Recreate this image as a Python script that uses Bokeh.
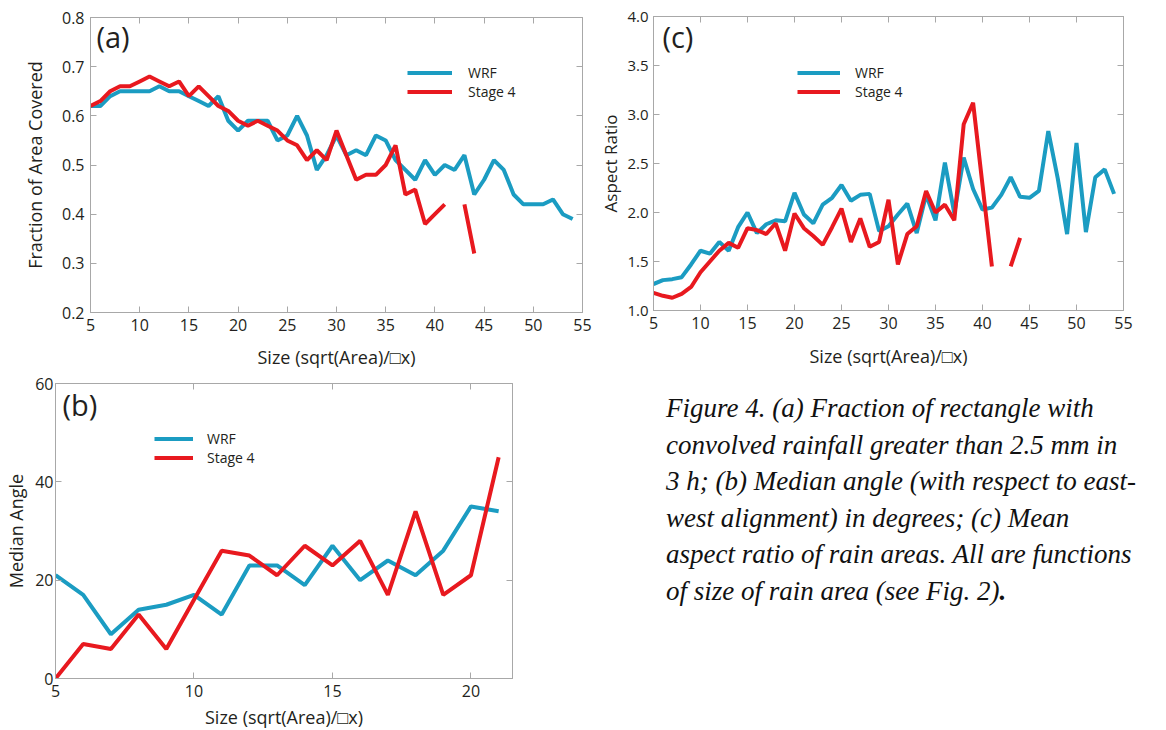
from bokeh.plotting import figure
from bokeh.models import (LinearAxis, FixedTicker, PrintfTickFormatter, Legend,
                          LegendItem, Div, Range1d)
from bokeh.layouts import row, column
from bokeh.embed import file_html
from bokeh.resources import INLINE
from bokeh.core.properties import value

nan = float("nan")

# ---------------- data ----------------
a_size = list(range(5, 55))
a_wrf = [0.62, 0.62, 0.64, 0.65, 0.65, 0.65, 0.65, 0.66, 0.65, 0.65,
         0.64, 0.63, 0.62, 0.64, 0.59, 0.57, 0.59, 0.59, 0.59, 0.55,
         0.56, 0.60, 0.56, 0.49, 0.52, 0.56, 0.52, 0.53, 0.52, 0.56,
         0.55, 0.51, 0.49, 0.47, 0.51, 0.48, 0.50, 0.49, 0.52, 0.44,
         0.47, 0.51, 0.49, 0.44, 0.42, 0.42, 0.42, 0.43, 0.40, 0.39]
a_stage4 = [0.62, 0.63, 0.65, 0.66, 0.66, 0.67, 0.68, 0.67, 0.66, 0.67,
            0.64, 0.66, 0.64, 0.62, 0.61, 0.59, 0.58, 0.59, 0.58, 0.57,
            0.55, 0.54, 0.51, 0.53, 0.51, 0.57, 0.52, 0.47, 0.48, 0.48,
            0.50, 0.54, 0.44, 0.45, 0.38, 0.40, 0.42, nan, 0.42, 0.32,
            nan, nan, nan, nan, nan, nan, nan, nan, nan, nan]

b_size = list(range(5, 22))
b_wrf = [21, 17, 9, 14, 15, 17, 13, 23, 23, 19, 27, 20, 24, 21, 26, 35, 34]
b_stage4 = [0, 7, 6, 13, 6, 16, 26, 25, 21, 27, 23, 28, 17, 34, 17, 21, 45]

c_size = list(range(5, 55))
c_wrf = [1.27, 1.31, 1.32, 1.34, 1.47, 1.61, 1.58, 1.70, 1.61, 1.85,
         2.00, 1.79, 1.88, 1.92, 1.91, 2.20, 1.98, 1.89, 2.08, 2.15,
         2.28, 2.12, 2.18, 2.19, 1.81, 1.86, 1.98, 2.09, 1.79, 2.18,
         1.92, 2.51, 1.99, 2.56, 2.24, 2.03, 2.05, 2.18, 2.36, 2.16,
         2.15, 2.22, 2.83, 2.35, 1.78, 2.71, 1.80, 2.36, 2.44, 2.19]
c_stage4 = [1.18, 1.15, 1.13, 1.17, 1.24, 1.39, 1.50, 1.61, 1.69, 1.64,
            1.84, 1.82, 1.78, 1.89, 1.61, 1.99, 1.84, 1.76, 1.67, 1.85,
            2.04, 1.70, 1.94, 1.65, 1.70, 2.13, 1.47, 1.78, 1.86, 2.22,
            2.00, 2.08, 1.92, 2.90, 3.12, 2.28, 1.45, nan, 1.45, 1.74,
            nan, nan, nan, nan, nan, nan, nan, nan, nan, nan]

a_xticks = [5, 10, 15, 20, 25, 30, 35, 40, 45, 50, 55]
a_yticks = [0.2, 0.3, 0.4, 0.5, 0.6, 0.7, 0.8]
b_xticks = [5, 10, 15, 20]
b_yticks = [0, 20, 40, 60]
c_xticks = [5, 10, 15, 20, 25, 30, 35, 40, 45, 50, 55]
c_yticks = [1.0, 1.5, 2.0, 2.5, 3.0, 3.5, 4.0]

series_names = ["WRF", "Stage 4"]
x_label = "Size (sqrt(Area)/\u25a1x)"

caption_lines = [
    "Figure 4. (a) Fraction of rectangle with",
    "convolved rainfall greater than 2.5 mm in",
    "3 h; (b) Median angle (with respect to east-",
    "west alignment) in degrees; (c) Mean",
    "aspect ratio of rain areas. All are functions",
    "of size of rain area (see Fig. 2)",
]

# ---------------- style ----------------
BLUE = "#1b9cc2"
RED = "#e8191f"
GRAY = "#a8a8a8"
TXT = "#231f20"
FONT = "Open Sans"


def panel(xr, yr, xt, yt, ylabel, fw, fh, bl, br, bt, bb, fmt,
          xs, s1, s2, tag, tag_xy, leg_loc, leg_gw, leg_so,
          ytick_standoff, ylab_standoff, xlab_standoff, ylab_size="18px",
          ytick_size="16px"):
    p = figure(frame_width=fw, frame_height=fh,
               x_range=Range1d(*xr), y_range=Range1d(*yr),
               min_border_left=bl, min_border_right=br,
               min_border_top=bt, min_border_bottom=bb,
               output_backend="svg", toolbar_location=None)
    p.frame_align = False
    p.grid.visible = False
    p.outline_line_color = GRAY
    p.outline_line_width = 1
    p.background_fill_color = "white"
    p.border_fill_color = "white"

    for ax in (p.xaxis[0], p.yaxis[0]):
        ax.axis_line_color = GRAY
        ax.major_tick_line_color = GRAY
        ax.major_tick_in = 6
        ax.major_tick_out = 0
        ax.minor_tick_line_color = None
        ax.major_label_text_font = FONT
        ax.major_label_text_font_size = "16px"
        ax.major_label_text_color = TXT
        ax.axis_label_text_font = FONT
        ax.axis_label_text_font_size = "18px"
        ax.axis_label_text_font_style = "normal"
        ax.axis_label_text_color = TXT
        ax.major_label_standoff = 6
    p.yaxis[0].major_label_standoff = ytick_standoff
    p.yaxis[0].axis_label_text_font_size = ylab_size
    p.yaxis[0].major_label_text_font_size = ytick_size
    p.xaxis[0].ticker = FixedTicker(ticks=xt)
    p.yaxis[0].ticker = FixedTicker(ticks=yt)
    if fmt:
        p.yaxis[0].formatter = PrintfTickFormatter(format=fmt)
    p.xaxis[0].axis_label = x_label
    p.yaxis[0].axis_label = ylabel
    p.xaxis[0].axis_label_standoff = xlab_standoff
    p.yaxis[0].axis_label_standoff = ylab_standoff

    for side, ticks in (("above", xt), ("right", yt)):
        ax = LinearAxis(ticker=FixedTicker(ticks=ticks))
        ax.axis_line_color = GRAY
        ax.major_tick_line_color = GRAY
        ax.major_tick_in = 6
        ax.major_tick_out = 0
        ax.minor_tick_line_color = None
        ax.major_label_text_color = None
        ax.major_label_text_font_size = "1px"
        ax.major_label_standoff = 0
        p.add_layout(ax, side)

    r1 = p.line(xs, s1, line_color=BLUE, line_width=4)
    r2 = p.line(xs, s2, line_color=RED, line_width=4)

    legend = Legend(items=[LegendItem(label=series_names[0], renderers=[r1]),
                           LegendItem(label=series_names[1], renderers=[r2])],
                    location=leg_loc, padding=0, margin=0, spacing=0,
                    glyph_width=leg_gw, glyph_height=15, label_height=15,
                    label_standoff=leg_so,
                    label_text_font=FONT, label_text_font_size="14px",
                    label_text_color=TXT,
                    border_line_alpha=0, background_fill_alpha=0)
    p.add_layout(legend)

    p.text(x=[tag_xy[0]], y=[tag_xy[1]], text=[tag],
           text_font=value(FONT), text_font_size="29px", text_color=TXT,
           text_align="left", text_baseline="middle")
    return p


pa = panel((5, 55), (0.2, 0.8), a_xticks, a_yticks, "Fraction of Area Covered",
           492, 295, 90, 11, 17, 60, "%.1f",
           a_size, a_wrf, a_stage4, "(a)", (5.6, 0.762), (317, 211), 45, 16,
           6, 12, 11)

pb = panel((5, 21.5), (0, 60), b_xticks, b_yticks, "Median Angle",
           457, 295, 55, 81, 11, 50, None,
           b_size, b_wrf, b_stage4, "(b)", (5.25, 55.7), (99, 211), 39, 14,
           2, 4, 5)

pc = panel((5, 55), (1.0, 4.0), c_xticks, c_yticks, "Aspect Ratio",
           470, 294, 60, 20, 16, 60, "%.1f",
           c_size, c_wrf, c_stage4, "(c)", (5.95, 3.8), (144, 209), 43, 15,
           5, 2, 12, "17px", "15px")

caption_html = (
    "<div style=\"font-family:'Liberation Serif','Times New Roman',serif;"
    "font-style:italic;font-size:27px;line-height:36.5px;color:#111;"
    "padding-left:68px;padding-top:15px;white-space:nowrap\">"
    + "<br>".join(caption_lines) + "<b>.</b></div>"
)
caption = Div(text=caption_html, width=573, height=340)

layout = row(column(pa, pb), column(pc, caption))

open("out.html", "w").write(file_html(layout, INLINE))
